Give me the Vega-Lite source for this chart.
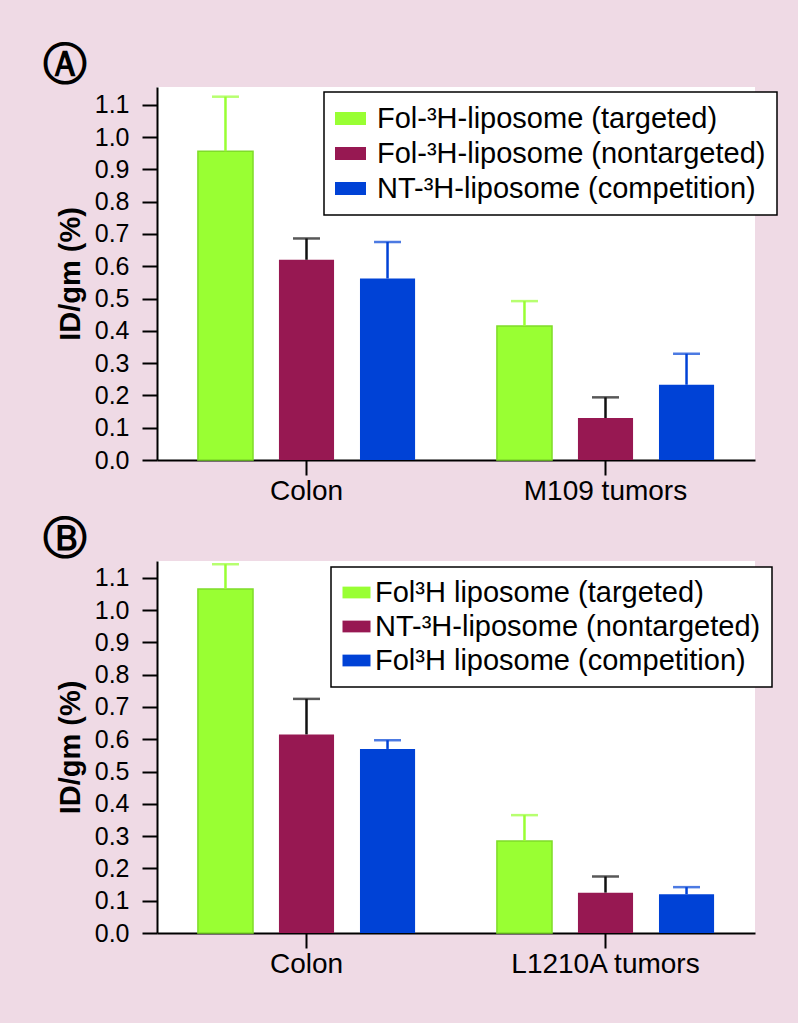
{
  "$schema": "https://vega.github.io/schema/vega-lite/v6.json",
  "background": "#EFDAE5",
  "padding": {"left": 43, "top": 44, "right": 21, "bottom": 46},
  "spacing": 13,
  "config": {
    "view": {"fill": "white", "stroke": null},
    "font": "Liberation Sans, Arial, Helvetica, sans-serif",
    "axis": {"domainColor": "black", "tickColor": "black", "labelColor": "black", "titleColor": "black", "grid": false, "domainWidth": 2, "tickWidth": 2, "tickSize": 15, "labelFont": "Liberation Sans, Arial, sans-serif", "titleFont": "Liberation Sans, Arial, sans-serif", "labelOverlap": false, "labelLimit": 0},
    "axisY": {"labelFontSize": 25, "labelPadding": 13, "titleFontSize": 29, "titleFontWeight": "bold", "titlePadding": 9},
    "axisX": {"labelFontSize": 28, "labelPadding": 2, "labelAngle": 0},
    "legend": {"orient": "none", "strokeColor": "black", "strokeWidth": 1.5, "fillColor": "white", "padding": 11, "labelFontSize": 29, "labelFont": "Liberation Sans, Arial, sans-serif", "labelColor": "black", "labelLimit": 0, "rowPadding": 4, "symbolType": "M-1,-0.42H1V0.42H-1Z", "symbolStrokeWidth": 0, "symbolOpacity": 1, "title": null},
    "title": {"font": "DejaVu Sans", "fontSize": 44, "fontWeight": "bold", "color": "black", "anchor": "start", "frame": "group", "dx": -114, "offset": -1}
  },
  "resolve": {"scale": {"color": "independent", "x": "independent", "xOffset": "independent", "y": "independent"}, "legend": {"color": "independent"}, "axis": {"x": "independent", "y": "independent"}},
  "vconcat": [
    {
      "width": 598,
      "height": 373,
      "title": {"text": "Ⓐ"},
      "data": {"values": [
        {"group": "Colon", "series": "Fol-³H-liposome (targeted)", "value": 0.956, "err": 1.125},
        {"group": "Colon", "series": "Fol-³H-liposome (nontargeted)", "value": 0.62, "err": 0.686},
        {"group": "Colon", "series": "NT-³H-liposome (competition)", "value": 0.562, "err": 0.675},
        {"group": "M109 tumors", "series": "Fol-³H-liposome (targeted)", "value": 0.415, "err": 0.492},
        {"group": "M109 tumors", "series": "Fol-³H-liposome (nontargeted)", "value": 0.13, "err": 0.194},
        {"group": "M109 tumors", "series": "NT-³H-liposome (competition)", "value": 0.233, "err": 0.329}
      ]},
      "encoding": {
        "x": {"field": "group", "type": "nominal", "sort": ["Colon", "M109 tumors"], "title": null, "scale": {"paddingInner": 0, "paddingOuter": 0}},
        "xOffset": {"field": "series", "type": "nominal", "scale": {"domain": ["Fol-³H-liposome (targeted)", "Fol-³H-liposome (nontargeted)", "NT-³H-liposome (competition)"], "paddingInner": 0.32, "paddingOuter": 0.505}}
      },
      "layer": [
        {
          "mark": {"type": "bar", "strokeWidth": 1.5},
          "encoding": {
            "y": {"field": "value", "type": "quantitative", "title": "ID/gm (%)", "scale": {"domain": [0, 1.155], "nice": false}, "axis": {"values": [0, 0.1, 0.2, 0.3, 0.4, 0.5, 0.6, 0.7, 0.8, 0.9, 1.0, 1.1], "format": ".1f", "labelOverlap": false}},
            "color": {"field": "series", "type": "nominal", "scale": {"domain": ["Fol-³H-liposome (targeted)", "Fol-³H-liposome (nontargeted)", "NT-³H-liposome (competition)"], "range": ["#99FF33", "#971852", "#0042D6"]}, "legend": {"legendX": 167, "legendY": 5, "symbolSize": 961, "labelOffset": 11}},
            "stroke": {"condition": {"test": "indexof(datum.series, '(targeted)') >= 0", "value": "#7FDC2A"}, "value": null}
          }
        },
        {
          "mark": {"type": "rule", "strokeWidth": 2.5},
          "encoding": {
            "y": {"field": "value", "type": "quantitative", "title": "ID/gm (%)", "axis": {"values": [0, 0.1, 0.2, 0.3, 0.4, 0.5, 0.6, 0.7, 0.8, 0.9, 1.0, 1.1], "format": ".1f", "labelOverlap": false}},
            "y2": {"field": "err"},
            "color": {"condition": {"test": "indexof(datum.series, 'nontargeted') >= 0", "value": "#111111"}, "field": "series", "type": "nominal", "legend": null}
          }
        },
        {
          "mark": {"type": "tick", "size": 27, "thickness": 2.5},
          "encoding": {
            "y": {"field": "err", "type": "quantitative", "title": "ID/gm (%)", "axis": {"values": [0, 0.1, 0.2, 0.3, 0.4, 0.5, 0.6, 0.7, 0.8, 0.9, 1.0, 1.1], "format": ".1f", "labelOverlap": false}},
            "color": {"condition": {"test": "indexof(datum.series, 'nontargeted') >= 0", "value": "#111111"}, "field": "series", "type": "nominal", "legend": null}
          }
        }
      ]
    },
    {
      "width": 598,
      "height": 372,
      "title": {"text": "Ⓑ"},
      "data": {"values": [
        {"group": "Colon", "series": "Fol³H liposome (targeted)", "value": 1.065, "err": 1.142},
        {"group": "Colon", "series": "NT-³H-liposome (nontargeted)", "value": 0.615, "err": 0.725},
        {"group": "Colon", "series": "Fol³H liposome (competition)", "value": 0.57, "err": 0.597},
        {"group": "L1210A tumors", "series": "Fol³H liposome (targeted)", "value": 0.285, "err": 0.365},
        {"group": "L1210A tumors", "series": "NT-³H-liposome (nontargeted)", "value": 0.125, "err": 0.175},
        {"group": "L1210A tumors", "series": "Fol³H liposome (competition)", "value": 0.12, "err": 0.142}
      ]},
      "encoding": {
        "x": {"field": "group", "type": "nominal", "sort": ["Colon", "L1210A tumors"], "title": null, "scale": {"paddingInner": 0, "paddingOuter": 0}},
        "xOffset": {"field": "series", "type": "nominal", "scale": {"domain": ["Fol³H liposome (targeted)", "NT-³H-liposome (nontargeted)", "Fol³H liposome (competition)"], "paddingInner": 0.32, "paddingOuter": 0.505}}
      },
      "layer": [
        {
          "mark": {"type": "bar", "strokeWidth": 1.5},
          "encoding": {
            "y": {"field": "value", "type": "quantitative", "title": "ID/gm (%)", "scale": {"domain": [0, 1.152], "nice": false}, "axis": {"values": [0, 0.1, 0.2, 0.3, 0.4, 0.5, 0.6, 0.7, 0.8, 0.9, 1.0, 1.1], "format": ".1f", "labelOverlap": false}},
            "color": {"field": "series", "type": "nominal", "scale": {"domain": ["Fol³H liposome (targeted)", "NT-³H-liposome (nontargeted)", "Fol³H liposome (competition)"], "range": ["#99FF33", "#971852", "#0042D6"]}, "legend": {"legendX": 174, "legendY": 6, "symbolSize": 784, "labelOffset": 4}},
            "stroke": {"condition": {"test": "indexof(datum.series, '(targeted)') >= 0", "value": "#7FDC2A"}, "value": null}
          }
        },
        {
          "mark": {"type": "rule", "strokeWidth": 2.5},
          "encoding": {
            "y": {"field": "value", "type": "quantitative", "title": "ID/gm (%)", "axis": {"values": [0, 0.1, 0.2, 0.3, 0.4, 0.5, 0.6, 0.7, 0.8, 0.9, 1.0, 1.1], "format": ".1f", "labelOverlap": false}},
            "y2": {"field": "err"},
            "color": {"condition": {"test": "indexof(datum.series, 'nontargeted') >= 0", "value": "#111111"}, "field": "series", "type": "nominal", "legend": null}
          }
        },
        {
          "mark": {"type": "tick", "size": 27, "thickness": 2.5},
          "encoding": {
            "y": {"field": "err", "type": "quantitative", "title": "ID/gm (%)", "axis": {"values": [0, 0.1, 0.2, 0.3, 0.4, 0.5, 0.6, 0.7, 0.8, 0.9, 1.0, 1.1], "format": ".1f", "labelOverlap": false}},
            "color": {"condition": {"test": "indexof(datum.series, 'nontargeted') >= 0", "value": "#111111"}, "field": "series", "type": "nominal", "legend": null}
          }
        }
      ]
    }
  ]
}
